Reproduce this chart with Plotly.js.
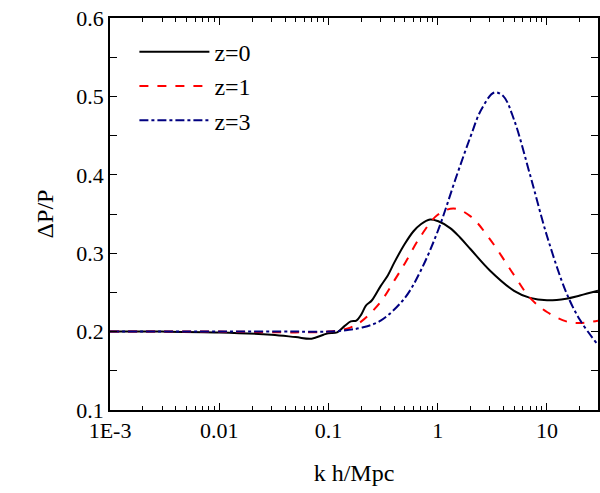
<!DOCTYPE html>
<html><head><script src="https://cdn.plot.ly/plotly-3.0.1.min.js"></script></head>
<body style="margin:0"><div id="c" style="width:600px;height:493px"></div>
<script>
const k0 = [0.001, 0.003, 0.01, 0.03, 0.05, 0.07, 0.09, 0.1, 0.12, 0.14, 0.16, 0.18, 0.2, 0.22, 0.25, 0.3, 0.35, 0.4, 0.5, 0.6, 0.7, 0.85, 1, 1.3, 1.6, 2, 3, 5, 7, 10, 15, 20, 29.3];
const z0 = [0.2, 0.2, 0.199, 0.196, 0.193, 0.191, 0.196, 0.198, 0.199, 0.207, 0.213, 0.214, 0.222, 0.233, 0.24, 0.258, 0.272, 0.288, 0.312, 0.328, 0.337, 0.343, 0.341, 0.332, 0.32, 0.305, 0.278, 0.252, 0.243, 0.24, 0.242, 0.246, 0.252];
const k1 = [0.001, 0.01, 0.05, 0.1, 0.15, 0.2, 0.3, 0.4, 0.5, 0.7, 1, 1.4, 2, 3, 5, 7, 10, 15, 20, 29.3];
const z1 = [0.2, 0.2, 0.199, 0.2, 0.204, 0.213, 0.238, 0.265, 0.287, 0.322, 0.349, 0.357, 0.347, 0.318, 0.272, 0.243, 0.225, 0.213, 0.211, 0.214];
const k3 = [0.001, 0.01, 0.05, 0.1, 0.15, 0.2, 0.3, 0.5, 0.7, 1, 1.5, 2, 2.5, 3.3, 4, 5, 7, 10, 15, 20, 29.3];
const z3 = [0.2, 0.2, 0.2, 0.2, 0.202, 0.205, 0.214, 0.243, 0.278, 0.328, 0.4, 0.449, 0.483, 0.505, 0.5, 0.47, 0.4, 0.322, 0.25, 0.215, 0.183];
const majorK = [0.001, 0.01, 0.1, 1, 10];
const majorLabels = ['1E-3', '0.01', '0.1', '1', '10'];
const minorK = [];
[0.001, 0.01, 0.1, 1, 10].forEach(d => { for (let m = 2; m <= 9; m++) minorK.push(d * m); });

const ax = {showline:true, linecolor:'#000', linewidth:1.5, mirror:'allticks', ticks:'inside', ticklen:7, tickcolor:'#000', tickwidth:1.2, showgrid:false, zeroline:false, tickfont:{size:22}};
Plotly.newPlot('c', [
  {x:k0, y:z0, name:'z=0', mode:'lines', line:{color:'#000', width:2, shape:'spline'}},
  {x:k1, y:z1, name:'z=1', mode:'lines', line:{color:'#ff0000', width:2, dash:'dash', shape:'spline'}},
  {x:k3, y:z3, name:'z=3', mode:'lines', line:{color:'#000080', width:2, dash:'dashdot', shape:'spline'}},
  {x:k3, y:z3, xaxis:'x2', mode:'lines', line:{width:0}, opacity:0, showlegend:false, hoverinfo:'skip'}
], {
  width:600, height:493, paper_bgcolor:'#fff', plot_bgcolor:'#fff',
  font:{family:'"Times New Roman", "Liberation Serif", serif', color:'#000', size:22},
  margin:{l:110, r:2, t:18, b:83},
  xaxis:{...ax, type:'log', range:[-3, 1.467], tickvals:majorK, ticktext:majorLabels,
    title:{text:'k h/Mpc', font:{size:24}, standoff:22}},
  xaxis2:{type:'log', range:[-3, 1.467], overlaying:'x', side:'bottom', tickvals:minorK, ticks:'inside', ticklen:4,
    tickcolor:'#000', showticklabels:false, showgrid:false, zeroline:false, showline:true, mirror:'allticks', linecolor:'#000', linewidth:1.5},
  yaxis:{...ax, range:[0.1, 0.6], dtick:0.1, tickformat:'.1f', minor:{ticks:'inside', ticklen:4, tickcolor:'#000', dtick:0.05}, title:{text:'ΔP/P', font:{size:24}, standoff:16}},
  legend:{x:0.05, y:0.97, font:{size:24}, bgcolor:'rgba(0,0,0,0)', itemwidth:70, tracegroupgap:0},
  showlegend:true
}, {displayModeBar:false});
</script></body></html>
